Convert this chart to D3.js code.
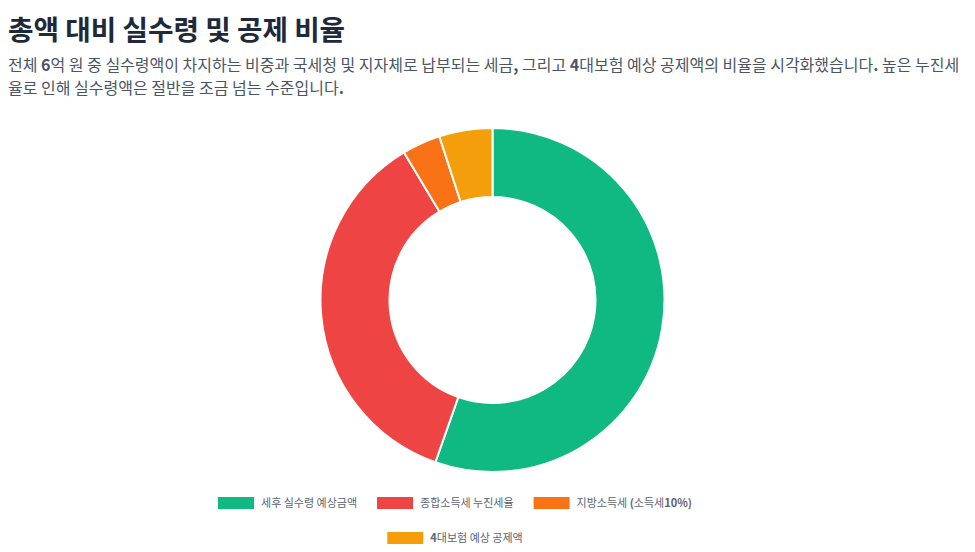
<!DOCTYPE html>
<html>
<head>
<meta charset="utf-8">
<script src="https://cdn.jsdelivr.net/npm/d3@7"></script>
<style>
  html, body { margin: 0; padding: 0; background: #fff; }
  svg { display: block; font-family: "Noto Sans CJK KR", "Noto Sans", sans-serif; }
</style>
</head>
<body>
<div id="container"></div>
<script>
// values in KRW (total 6억)
var labels = ['세후 실수령 예상금액', '종합소득세 누진세율', '지방소득세 (소득세10%)', '4대보험 예상 공제액'];
var amounts = [332334000, 216060000, 21606000, 30000000];
var colors = ['#10b981', '#ef4444', '#f97316', '#f59e0b'];

var title = '총액 대비 실수령 및 공제 비율';
var subtitleLines = [
  '전체 6억 원 중 실수령액이 차지하는 비중과 국세청 및 지자체로 납부되는 세금, 그리고 4대보험 예상 공제액의 비율을 시각화했습니다. 높은 누진세',
  '율로 인해 실수령액은 절반을 조금 넘는 수준입니다.'
];

var width = 975, height = 552;
var cx = 492.5, cy = 300, outerR = 172, innerR = 103;

var svg = d3.select('#container').append('svg')
  .attr('width', width)
  .attr('height', height);

// ascii runs look bolder in the original, mimic that
function richText(sel, str) {
  var parts = str.match(/[\x21-\x7e]+|[^\x21-\x7e]+/g);
  parts.forEach(function(p) {
    sel.append('tspan')
      .attr('font-weight', /^[\x21-\x7e]+$/.test(p) ? 700 : null)
      .text(p);
  });
}

svg.append('text')
  .attr('x', 8)
  .attr('y', 40)
  .attr('font-size', 27.7)
  .attr('font-weight', 700)
  .attr('fill', '#1e293b')
  .text(title);

subtitleLines.forEach(function(line, i) {
  var t = svg.append('text')
    .attr('x', 8)
    .attr('y', 70.5 + i * 23.5)
    .attr('font-size', 16)
    .attr('fill', '#4b5563');
  richText(t, line);
});

var pie = d3.pie().sort(null).value(function(d) { return d; });
var arc = d3.arc().innerRadius(innerR).outerRadius(outerR);

svg.append('g')
  .attr('transform', 'translate(' + cx + ',' + cy + ')')
  .selectAll('path')
  .data(pie(amounts))
  .enter()
  .append('path')
    .attr('d', arc)
    .attr('fill', function(d, i) { return colors[i]; })
    .attr('stroke', '#fff')
    .attr('stroke-width', 2);

// legend, chart.js style rows
var boxW = 36, boxH = 12, boxGap = 7, itemGap = 20, legendCx = 455;
var rows = [[0, 1, 2], [3]];
var rowY = [503, 538];

rows.forEach(function(row, r) {
  var g = svg.append('g');
  var x = 0;
  row.forEach(function(idx) {
    var item = g.append('g').attr('transform', 'translate(' + x + ',0)');
    item.append('rect')
      .attr('x', 0)
      .attr('y', rowY[r] - boxH / 2)
      .attr('width', boxW)
      .attr('height', boxH)
      .attr('fill', colors[idx]);
    var t = item.append('text')
      .attr('x', boxW + boxGap)
      .attr('y', rowY[r])
      .attr('dy', '0.35em')
      .attr('font-size', 11)
      .attr('fill', '#5b6472');
    richText(t, labels[idx]);
    x += boxW + boxGap + t.node().getComputedTextLength() + itemGap;
  });
  var rowW = x - itemGap;
  g.attr('transform', 'translate(' + (legendCx - rowW / 2) + ',0)');
});
</script>
</body>
</html>
